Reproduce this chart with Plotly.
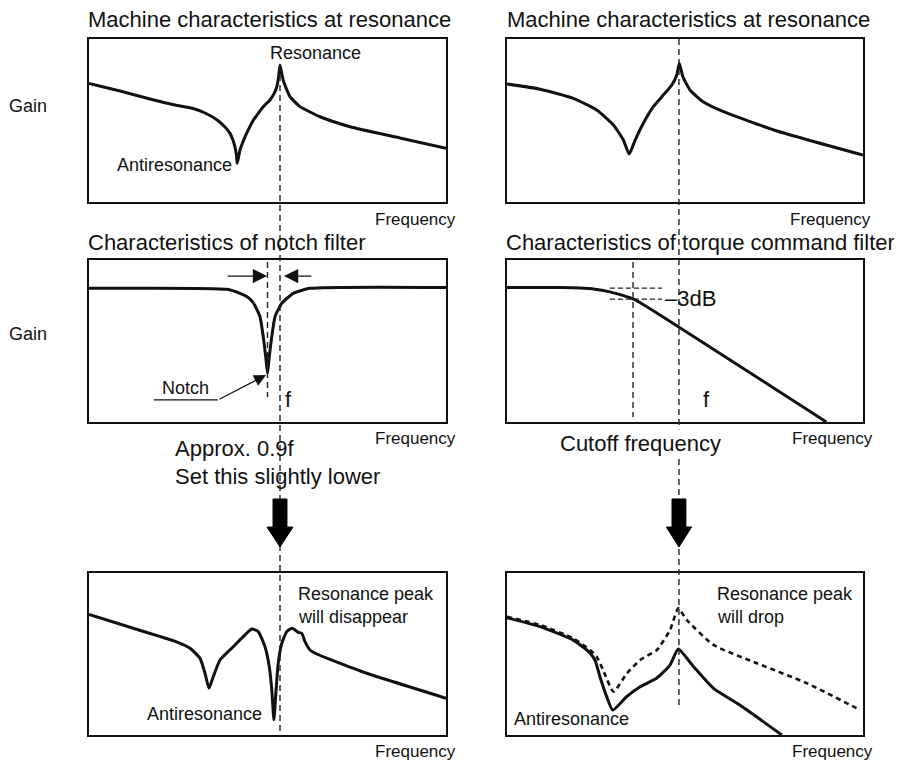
import plotly.graph_objects as go

# the page adds an 8px body margin, so the figure is sized to the visible area
OFF = 8
W, H = 902 - OFF, 760 - OFF

# panel curves, frequency 0..100 across each box, gain 0..100 bottom to top
tl_freq = [0, 8.7, 17.1, 24.1, 28.9, 32.5, 35.9, 38.1, 39.5, 40.3, 40.9, 41.3, 41.5, 41.9, 42.3,
           42.9, 43.7, 44.6, 45.9, 47.4, 49.0, 50.7, 51.8, 52.6, 53.1, 53.5, 53.9, 54.4, 55.2,
           56.3, 57.7, 59.1, 61.9, 64.7, 73.1, 87.1, 100]
tl_gain = [72.8, 68.1, 63.2, 59.5, 57.5, 54.6, 50.3, 46.0, 42.1, 38.0, 33.7, 28.8, 23.7, 27.6, 31.9,
           35.6, 39.9, 44.2, 49.7, 54.4, 58.9, 62.6, 66.3, 70.7, 76.7, 84.0, 79.8, 74.8, 69.9,
           64.6, 61.3, 58.5, 55.2, 52.3, 46.2, 39.3, 32.9]

tr_freq = [0, 9.3, 18.6, 25.2, 29.9, 32.7, 34.3, 36.0, 38.3, 41.1, 43.9, 46.3, 47.7, 48.4, 49.4,
           51.4, 55.1, 60.8, 74.9, 100]
tr_gain = [72.4, 69.2, 63.6, 56.4, 47.2, 38.0, 29.4, 38.0, 48.3, 58.5, 65.6, 71.8, 77.9, 85.1, 76.9,
           68.7, 61.5, 55.4, 44.2, 28.8]

notch_freq = [0, 38.6, 42.3, 44.5, 46.1, 47.9, 48.8, 49.5, 50.0, 50.5, 51.2, 52.1, 54.0, 55.8, 57.2,
              61.9, 100]
notch_gain = [82.5, 81.9, 79.4, 77.0, 73.3, 65.0, 52.7, 40.3, 30.1, 40.3, 52.7, 65.0, 73.3, 77.0, 79.4,
              82.5, 83.1]

lpf_freq = [0, 15.0, 20.5, 24.7, 28.9, 32.3, 35.4, 38.5, 89.7]
lpf_gain = [83.1, 83.0, 82.7, 82.0, 80.3, 78.3, 76.0, 72.2, 0]

bl_freq = [0, 12.4, 23.6, 28.3, 31.1, 32.5, 33.6, 34.8, 36.7, 40.4, 43.2, 45.6, 47.4, 49.3, 50.5,
           51.2, 51.8, 52.4, 53.0, 54.0, 55.4, 56.9, 58.6, 59.6, 60.5, 61.9, 63.8, 68.4, 77.8, 100]
bl_gain = [74.5, 65.9, 58.2, 53.5, 47.3, 38.1, 28.8, 36.0, 46.3, 54.5, 60.7, 65.4, 63.8, 54.5, 42.2,
           27.8, 9.3, 27.8, 44.2, 56.6, 63.8, 65.9, 63.4, 62.8, 57.6, 52.5, 50.0, 45.9, 38.1, 22.7]

br_freq = [0, 9.3, 18.6, 22.4, 24.7, 26.1, 28.0, 29.7, 33.6, 37.4, 42.0, 45.8, 48.1, 52.4, 58.0,
           65.4, 77.2]
br_gain = [72.4, 66.9, 58.6, 52.5, 46.3, 36.0, 23.7, 15.4, 23.7, 29.8, 35.0, 43.2, 53.1, 42.2, 28.8,
           18.5, 0]

br_orig_freq = [0, 9.3, 18.6, 23.3, 25.2, 27.0, 29.9, 33.7, 37.4, 42.1, 45.8, 48.1, 50.5, 58.0,
                70.2, 84.3, 99.2]
br_orig_gain = [73.0, 67.9, 59.7, 52.5, 48.3, 40.1, 26.7, 38.1, 46.3, 52.5, 64.8, 78.2, 71.0, 55.6,
                44.3, 31.9, 15.4]

f_left = 53.5      # resonance frequency, left column
f_right = 48.3     # resonance frequency, right column
notch_f = 50.0
cutoff_f = 35.4
minus3_hi, minus3_lo = 82.7, 75.9

FONT = "Liberation Sans, Arial, sans-serif"
INK = "#111111"


def pxx(x):
    return (x - OFF) / W


def pxy(y):
    return 1 - (y - OFF) / H


col_dom = [[pxx(89), pxx(446)], [pxx(507), pxx(863)]]
row_dom = [[pxy(202), pxy(39)], [pxy(422), pxy(260)], [pxy(735), pxy(573)]]

fig = go.Figure()

panels = [
    (tl_freq, tl_gain),
    (tr_freq, tr_gain),
    (notch_freq, notch_gain),
    (lpf_freq, lpf_gain),
    (bl_freq, bl_gain),
    (br_freq, br_gain),
]
for i, (fx, gy) in enumerate(panels):
    n = "" if i == 0 else str(i + 1)
    fig.add_trace(go.Scatter(x=fx, y=gy, mode="lines", xaxis="x" + n, yaxis="y" + n,
                             line=dict(color=INK, width=3, shape="spline", smoothing=0.5),
                             hoverinfo="skip"))
fig.add_trace(go.Scatter(x=br_orig_freq, y=br_orig_gain, mode="lines", xaxis="x6", yaxis="y6",
                         line=dict(color=INK, width=2.6, dash="5px,4px", shape="spline", smoothing=0.5),
                         hoverinfo="skip"))

axis_style = dict(range=[0, 100], showline=True, mirror=True, linecolor=INK, linewidth=1.5,
                  showticklabels=False, showgrid=False, zeroline=False, ticks="", fixedrange=True)
layout_axes = {}
for i in range(6):
    r, c = divmod(i, 2)
    n = "" if i == 0 else str(i + 1)
    layout_axes["xaxis" + n] = dict(domain=col_dom[c], anchor="y" + n, **axis_style)
    layout_axes["yaxis" + n] = dict(domain=row_dom[r], anchor="x" + n, **axis_style)

dash_line = dict(color="#222222", width=1.4, dash="6px,4px")
shapes = [
    # long frequency markers across the columns
    dict(type="line", xref="x", yref="paper", x0=f_left, x1=f_left, y0=pxy(65), y1=pxy(731),
         line=dash_line),
    dict(type="line", xref="x2", yref="paper", x0=f_right, x1=f_right, y0=pxy(39), y1=pxy(706),
         line=dash_line),
    dict(type="line", xref="x3", yref="y3", x0=notch_f, x1=notch_f, y0=98.8, y1=15.4, line=dash_line),
    dict(type="line", xref="x4", yref="y4", x0=cutoff_f, x1=cutoff_f, y0=98.8, y1=3.1, line=dash_line),
    dict(type="line", xref="x4", yref="y4", x0=28.9, x1=43.5, y0=minus3_hi, y1=minus3_hi,
         line=dict(color="#222222", width=1.2, dash="5px,3px")),
    dict(type="line", xref="x4", yref="y4", x0=28.9, x1=43.5, y0=minus3_lo, y1=minus3_lo,
         line=dict(color="#222222", width=1.2, dash="5px,3px")),
    dict(type="line", xref="x3", yref="y3", x0=18.2, x1=36.1, y0=13.6, y1=13.6,
         line=dict(color=INK, width=1.2)),
]


def block_arrow(xref, xc, half_shaft, half_head):
    y_top, y_neck, y_tip = pxy(499), pxy(527), pxy(547)
    pts = [(xc - half_shaft, y_top), (xc + half_shaft, y_top), (xc + half_shaft, y_neck),
           (xc + half_head, y_neck), (xc, y_tip), (xc - half_head, y_neck),
           (xc - half_shaft, y_neck)]
    path = "M " + " L ".join(f"{x:.3f},{y:.4f}" for x, y in pts) + " Z"
    return dict(type="path", xref=xref, yref="paper", path=path, fillcolor="black",
                line=dict(color="black", width=1))


shapes.append(block_arrow("x", f_left, 1.95, 3.65))
shapes.append(block_arrow("x2", f_right, 1.95, 3.55))

annotations = []


def label(text, x, y, size, bg=None):
    a = dict(text=text, x=pxx(x), y=pxy(y), xref="paper", yref="paper", xanchor="left",
             yanchor="middle", showarrow=False, font=dict(family=FONT, size=size, color=INK))
    if bg:
        a["bgcolor"] = bg
    annotations.append(a)


label("Machine characteristics at resonance", 86, 20, 22)
label("Machine characteristics at resonance", 505, 20, 22)
label("Gain", 7, 106, 18)
label("Resonance", 268, 53, 18)
label("Antiresonance", 115, 165, 18)
label("Frequency", 373, 219, 17)
label("Frequency", 788, 219, 17)
label("Characteristics of notch filter", 86, 242, 22)
label("Characteristics of torque command filter", 504, 242, 22)
label("Gain", 7, 334, 18)
label("Notch", 160, 388, 18)
label("f", 283, 399, 22)
label("–3dB", 663, 298, 22)
label("f", 701, 399, 22)
label("Frequency", 373, 439, 17)
label("Frequency", 790, 439, 17)
label("Approx. 0.9f", 173, 448, 22)
label("Set this slightly lower", 173, 476, 22)
label("Cutoff frequency", 558, 443, 22, bg="white")
label("Resonance peak", 296, 594, 18)
label("will disappear", 296, 617, 18)
label("Antiresonance", 145, 714, 18)
label("Frequency", 373, 751, 17)
label("Resonance peak", 715, 594, 18)
label("will drop", 715, 617, 18)
label("Antiresonance", 512, 719, 18)
label("Frequency", 790, 751, 17)

# bandwidth arrows and notch pointer
arrow_common = dict(text="", showarrow=True, arrowhead=2, arrowcolor=INK)
annotations.append(dict(x=49.9, y=90.1, ax=38.4, ay=90.1, xref="x3", yref="y3", axref="x3",
                        ayref="y3", arrowsize=2.2, arrowwidth=1.3, **arrow_common))
annotations.append(dict(x=54.6, y=90.1, ax=62.7, ay=90.1, xref="x3", yref="y3", axref="x3",
                        ayref="y3", arrowsize=2.2, arrowwidth=1.3, **arrow_common))
annotations.append(dict(x=49.6, y=29.0, ax=36.1, ay=13.6, xref="x3", yref="y3", axref="x3",
                        ayref="y3", arrowsize=2.0, arrowwidth=1.2, **arrow_common))

fig.update_layout(
    width=W, height=H,
    margin=dict(l=0, r=0, t=0, b=0),
    paper_bgcolor="white", plot_bgcolor="white",
    showlegend=False,
    shapes=shapes,
    annotations=annotations,
    **layout_axes,
)

fig.write_html("out.html")
